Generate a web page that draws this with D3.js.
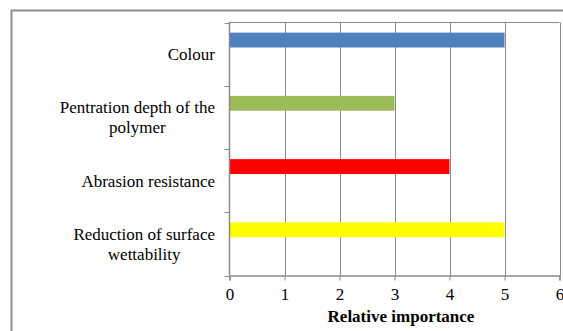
<!DOCTYPE html>
<html><head><meta charset="utf-8">
<script src="https://cdn.jsdelivr.net/npm/d3@7"></script>
<style>
html,body{margin:0;padding:0;background:#fff;}
svg{display:block;}
text{font-family:"Liberation Serif","Times New Roman",serif;fill:#000;}
</style></head>
<body>
<svg id="chart" width="563" height="331"></svg>
<script>
const categories = [["Colour"], ["Pentration depth of the", "polymer"], ["Abrasion resistance"], ["Reduction of surface", "wettability"]];
const categoryKeys = ["Colour", "Pentration depth of the polymer", "Abrasion resistance", "Reduction of surface wettability"];
const values = [5, 3, 4, 5];
const barColors = ["#4F81BD", "#9BBB59", "#FF0000", "#FFFF00"];
const xTicks = [0, 1, 2, 3, 4, 5, 6];
const xTitle = "Relative importance";

(function () {
const svg = d3.select("#chart");
const pL = 229.5, pR = 559.5, pT = 22.5, pB = 275.5;
const fs = "17px";

// outer chart border
svg.append("rect").attr("x", 11.5).attr("y", 10.5).attr("width", 560).attr("height", 330)
  .attr("fill", "none").attr("stroke", "#8e8e8e").attr("stroke-width", 2);

const x = d3.scaleLinear().domain([0, 6]).range([pL, pR]);
const y = d3.scaleBand().domain(categoryKeys).range([pT, pB]).padding(0);
const bw = y.bandwidth();

// gridlines
svg.append("g").selectAll("line").data(xTicks.filter(d => d > 0)).join("line")
  .attr("x1", d => Math.round(x(d)) + 0.5).attr("x2", d => Math.round(x(d)) + 0.5)
  .attr("y1", pT).attr("y2", pB).attr("stroke", "#8a8a8a").attr("stroke-width", 1);
// plot top border
svg.append("line").attr("x1", pL).attr("x2", pR).attr("y1", pT).attr("y2", pT)
  .attr("stroke", "#8a8a8a");

// bars
svg.append("g").selectAll("rect").data(categoryKeys).join("rect")
  .attr("x", x(0))
  .attr("y", d => y(d) + bw * 0.16)
  .attr("width", (d, i) => x(values[i]) - x(0))
  .attr("height", bw * 0.235)
  .attr("fill", (d, i) => barColors[i]);

// x axis
const xAxis = d3.axisBottom(x).tickValues(xTicks).tickSize(5).tickPadding(7).tickFormat(d3.format("d"));
const gx = svg.append("g").attr("transform", `translate(0,${pB})`).call(xAxis);
gx.select(".domain").attr("stroke", "#8a8a8a").attr("stroke-width", 1.5);
gx.selectAll(".tick line").attr("stroke", "#8a8a8a");
gx.selectAll("text").style("font-family", '"Liberation Serif","Times New Roman",serif').style("font-size", fs).attr("fill", "#000");

// y axis (line + ticks at band boundaries)
svg.append("line").attr("x1", pL).attr("x2", pL).attr("y1", pT - 0.5).attr("y2", pB)
  .attr("stroke", "#8a8a8a").attr("stroke-width", 1.5);
const bounds = categoryKeys.map(d => y(d)).concat([pB]);
svg.append("g").selectAll("line").data(bounds).join("line")
  .attr("x1", pL - 5).attr("x2", pL).attr("y1", d => Math.round(d) + 0.5).attr("y2", d => Math.round(d) + 0.5)
  .attr("stroke", "#8a8a8a");

// category labels: block right-aligned, lines centred within block
const lh = 20, labelRight = 215;
svg.append("g").selectAll("text").data(categoryKeys).join("text")
  .attr("text-anchor", "middle")
  .style("font-size", fs)
  .each(function(d, i) {
    const lines = categories[i];
    const cy = y(d) + bw / 2 - (lines.length - 1) * lh / 2;
    const t = d3.select(this);
    const spans = lines.map((ln, j) =>
      t.append("tspan").attr("y", cy + j * lh).attr("dy", "0.35em").text(ln));
    const maxW = d3.max(spans, s => s.node().getComputedTextLength());
    spans.forEach(s => s.attr("x", labelRight - maxW / 2));
  });

// x title
svg.append("text").attr("x", 401).attr("y", 316).attr("dy", "0.35em").attr("text-anchor", "middle")
  .style("font-size", fs).style("font-weight", "bold").text(xTitle);
})();
</script>
</body></html>
